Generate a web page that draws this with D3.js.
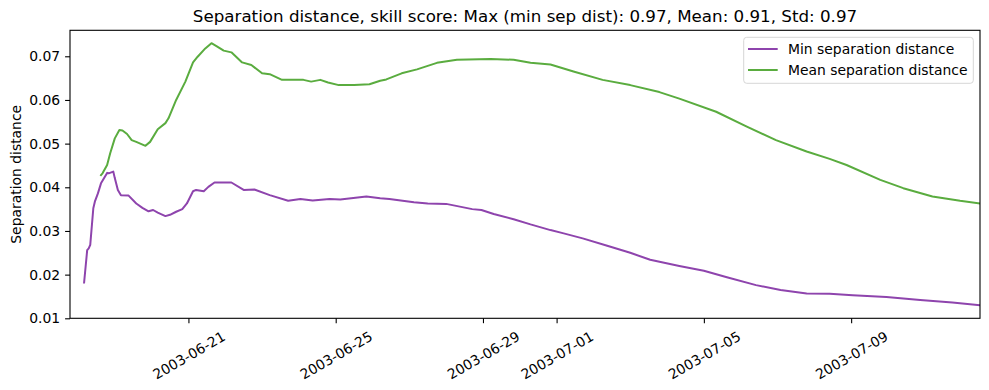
<!DOCTYPE html>
<html>
<head>
<meta charset="utf-8">
<script src="https://cdn.jsdelivr.net/npm/d3@7"></script>
<style>
  body { margin: 0; background: #fff; }
  svg text { font-family: "DejaVu Sans", sans-serif; fill: #000; }
</style>
</head>
<body>
<svg id="chart" width="989" height="390"></svg>
<script>

// hours after 2003-06-18 00:00 UTC, and separation distances
var minHours  = [4, 6, 7, 8, 10, 11, 13, 15, 19, 20, 23, 24, 26, 28, 33, 38, 42, 46, 49, 52, 57, 60, 64, 68, 71, 75, 77, 82, 85, 89,
                 100, 108, 115, 125, 137, 145, 153, 164, 171, 188, 197, 203, 219, 228, 240, 257, 263, 271, 284, 295,
                 308, 316, 329, 345, 360, 373, 392, 408, 423, 442, 458, 475, 490, 505, 527, 549, 570, 588];
var minValues = [0.0182, 0.0256, 0.0260, 0.0268, 0.0352, 0.0367, 0.0386, 0.0409, 0.0433, 0.0432, 0.0436, 0.0421, 0.0394, 0.0382,
                 0.0381, 0.0363, 0.0353, 0.0345, 0.0348, 0.0342, 0.0334, 0.0337, 0.0344, 0.0350, 0.0363, 0.0391, 0.0394, 0.0391,
                 0.0401, 0.0411, 0.0411, 0.0394, 0.0395, 0.0382, 0.0369, 0.0373, 0.0370, 0.0373, 0.0372, 0.0379, 0.0375, 0.0373,
                 0.0366, 0.0363, 0.0362, 0.0350, 0.0348, 0.0339, 0.0327, 0.0315, 0.0302, 0.0295, 0.0283, 0.0266, 0.0250, 0.0234,
                 0.0220, 0.0209, 0.0194, 0.0176, 0.0165, 0.0157, 0.0156, 0.0153, 0.0149, 0.0142, 0.0136, 0.0130];

var meanHours  = [15, 16, 19, 21, 24, 27, 29, 32, 35, 38, 44, 47, 52, 57, 59, 64, 70, 75, 78, 83, 87, 90, 95, 100, 107, 113, 120,
                  125, 133, 147, 152, 158, 163, 170, 180, 190, 197, 201, 211, 221, 234, 247, 269, 284, 295, 308, 323, 342,
                  360, 379, 392, 416, 436, 455, 475, 490, 501, 523, 538, 557, 575, 588];
var meanValues = [0.0428, 0.0432, 0.0451, 0.0478, 0.0512, 0.0531, 0.0530, 0.0522, 0.0508, 0.0504, 0.0495, 0.0504, 0.0533, 0.0547,
                  0.0558, 0.0600, 0.0642, 0.0686, 0.0699, 0.0718, 0.0730, 0.0724, 0.0713, 0.0709, 0.0686, 0.0680, 0.0661, 0.0659,
                  0.0646, 0.0646, 0.0642, 0.0646, 0.0640, 0.0634, 0.0634, 0.0636, 0.0644, 0.0647, 0.0661, 0.0670, 0.0685, 0.0692,
                  0.0694, 0.0692, 0.0685, 0.0681, 0.0665, 0.0646, 0.0634, 0.0618, 0.0603, 0.0573, 0.0539, 0.0508, 0.0482, 0.0465,
                  0.0451, 0.0417, 0.0398, 0.0379, 0.0369, 0.0363];

var xTickLabels = ["2003-06-21", "2003-06-25", "2003-06-29", "2003-07-01", "2003-07-05", "2003-07-09"];
var yTickValues = [0.01, 0.02, 0.03, 0.04, 0.05, 0.06, 0.07];
var seriesNames = ["Min separation distance", "Mean separation distance"];
var seriesColors = ["#8e44ad", "#5aac3f"];

var title = "Separation distance, skill score: Max (min sep dist): 0.97, Mean: 0.91, Std: 0.97";

var margin = {top: 30.3, right: 9, bottom: 71.7, left: 70};
var width = 989 - margin.left - margin.right;
var height = 390 - margin.top - margin.bottom;

var start = d3.utcParse("%Y-%m-%dT%H:%M")("2003-06-18T00:00");
var parseDay = d3.utcParse("%Y-%m-%d");

function toSeries(hours, values) {
    return hours.map(function (h, i) {
        return {date: d3.utcHour.offset(start, h), value: values[i]};
    });
}

var series = [toSeries(minHours, minValues), toSeries(meanHours, meanValues)];

var x = d3.scaleUtc()
    .domain([d3.utcMinute.offset(start, -312), d3.utcHour.offset(start, 588)])
    .range([0, width]);

var y = d3.scaleLinear()
    .domain([0.01, 0.07595])
    .range([height, 0]);

var svg = d3.select("#chart");
var g = svg.append("g").attr("transform", "translate(" + margin.left + "," + margin.top + ")");

// lines
var line = d3.line()
    .x(function (d) { return x(d.date); })
    .y(function (d) { return y(d.value); });

g.append("defs").append("clipPath").attr("id", "clip")
    .append("rect").attr("width", width).attr("height", height);

g.append("g").attr("clip-path", "url(#clip)")
    .selectAll("path")
    .data(series)
    .enter()
    .append("path")
    .attr("d", line)
    .attr("fill", "none")
    .attr("stroke", function (d, i) { return seriesColors[i]; })
    .attr("stroke-width", 2)
    .attr("stroke-linejoin", "round")
    .attr("stroke-linecap", "square");

// axes
var xAxis = g.append("g")
    .attr("transform", "translate(0," + height + ")")
    .call(d3.axisBottom(x)
        .tickValues(xTickLabels.map(function (d) { return parseDay(d); }))
        .tickFormat(d3.utcFormat("%Y-%m-%d"))
        .tickSizeInner(4.9).tickSizeOuter(0).tickPadding(4.9));

xAxis.selectAll("text")
    .style("font-size", "13.9px")
    .attr("text-anchor", "middle")
    .attr("dy", null)
    .attr("dominant-baseline", "central")
    .attr("y", 37)
    .attr("transform", function () {
        return "rotate(-30,0,37)";
    });

var yAxis = g.append("g")
    .call(d3.axisLeft(y)
        .tickValues(yTickValues)
        .tickFormat(d3.format(".2f"))
        .tickSizeInner(4.9).tickSizeOuter(0).tickPadding(4.9));

yAxis.selectAll("text").style("font-size", "13.9px");

g.selectAll(".domain").remove();
g.selectAll(".tick line").attr("stroke", "#000").attr("stroke-width", 1.1);

g.append("rect")
    .attr("width", width)
    .attr("height", height)
    .attr("fill", "none")
    .attr("stroke", "#000")
    .attr("stroke-width", 1.1);

// title and label
svg.append("text")
    .attr("x", margin.left + width / 2)
    .attr("y", 22)
    .attr("text-anchor", "middle")
    .style("font-size", "16.7px")
    .text(title);

svg.append("text")
    .attr("transform", "translate(21," + (margin.top + height / 2) + ") rotate(-90)")
    .attr("text-anchor", "middle")
    .style("font-size", "13.9px")
    .text("Separation distance");

// legend
var legend = svg.append("g").attr("transform", "translate(743.7,37.3)");

legend.append("rect")
    .attr("width", 229.6)
    .attr("height", 46)
    .attr("rx", 3)
    .attr("fill", "#fff")
    .attr("fill-opacity", 0.8)
    .attr("stroke", "#d6d6d6")
    .attr("stroke-width", 1);

var items = legend.selectAll(".item")
    .data(seriesNames)
    .enter()
    .append("g")
    .attr("class", "item")
    .attr("transform", function (d, i) { return "translate(0," + (11.7 + i * 21) + ")"; });

items.append("line")
    .attr("x1", 4.3).attr("x2", 34)
    .attr("stroke", function (d, i) { return seriesColors[i]; })
    .attr("stroke-width", 2);

items.append("text")
    .attr("x", 44.3)
    .attr("dominant-baseline", "central")
    .style("font-size", "13.9px")
    .text(function (d) { return d; });

</script>
</body>
</html>
